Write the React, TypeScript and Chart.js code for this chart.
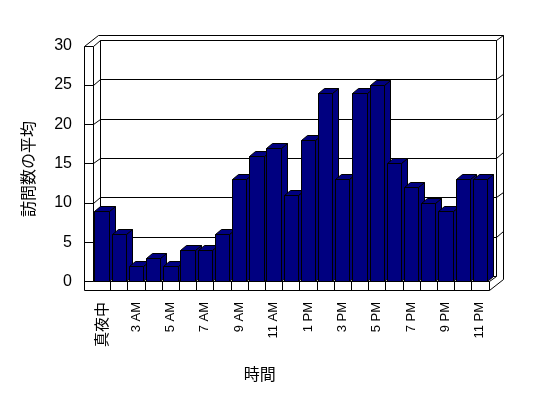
import React, { useEffect, useRef } from 'react';
import { Chart, registerables } from 'chart.js';

Chart.register(...registerables);

// ---- data ----
const categories = [
  '真夜中', '1 AM', '3 AM', '4 AM', '5 AM', '6 AM', '7 AM', '8 AM', '9 AM', '10 AM', '11 AM', '正午',
  '1 PM', '2 PM', '3 PM', '4 PM', '5 PM', '6 PM', '7 PM', '8 PM', '9 PM', '10 PM', '11 PM',
];
const avgVisits = [9, 6, 2, 3, 2, 4, 4, 6, 13, 16, 17, 11, 18, 24, 13, 24, 25, 15, 12, 10, 9, 13, 13];
const yTickValues = [0, 5, 10, 15, 20, 25, 30];
const xAxisTitle = '時間';
const yAxisTitle = '訪問数の平均';

// ---- style ----
const LATIN = "'Liberation Sans', 'Noto Sans CJK JP', sans-serif";
const CJK = "'Noto Sans CJK JP', 'Liberation Sans', sans-serif";
const BAR_FILL = '#000080';
const LINE = '#000000';
const WALL_DX = 7;
const WALL_DY = -5.5;
const BAR_DX = 6;
const BAR_DY = -5;
const LEFT_WALL_W = 9;
const FLOOR_H = 8.5;

const p = (v: number) => Math.round(v) + 0.5;

function line(ctx: CanvasRenderingContext2D, x1: number, y1: number, x2: number, y2: number) {
  ctx.beginPath();
  ctx.moveTo(p(x1), p(y1));
  ctx.lineTo(p(x2), p(y2));
  ctx.stroke();
}

const threeDPlugin = {
  id: 'threeD',
  beforeDatasetsDraw(chart: any) {
    const { ctx, chartArea, scales } = chart;
    const ys = scales.y;
    const xs = scales.x;
    const L = chartArea.left;
    const R = chartArea.right;
    const y0 = ys.getPixelForValue(0);
    const yTop = ys.getPixelForValue(yTickValues[yTickValues.length - 1]);
    const fb = y0 + FLOOR_H;
    const dx = WALL_DX;
    const dy = WALL_DY;
    ctx.save();
    ctx.strokeStyle = LINE;
    ctx.lineWidth = 1;
    // back wall inner face outline
    line(ctx, L + dx, yTop + dy, R + dx, yTop + dy);
    line(ctx, L + dx, yTop + dy, L + dx, y0 + dy);
    line(ctx, R + dx, yTop + dy, R + dx, y0 + dy);
    line(ctx, L + dx, y0 + dy, R + dx, y0 + dy);
    // gridlines + ticks on walls
    yTickValues.forEach((v) => {
      const yv = ys.getPixelForValue(v);
      line(ctx, L - LEFT_WALL_W, yv, L, yv);
      line(ctx, L, yv, L + dx, yv + dy);
      if (v !== 0) {
        line(ctx, L + dx, yv + dy, R + dx, yv + dy);
        line(ctx, R + dx, yv + dy, R + 2 * dx, yv + 2 * dy);
      }
    });
    // floor top right edge
    line(ctx, R, y0, R + dx, y0 + dy);
    // outer outline
    line(ctx, L - LEFT_WALL_W, yTop, L - LEFT_WALL_W + 2 * dx, yTop + 2 * dy);
    line(ctx, L - LEFT_WALL_W + 2 * dx, yTop + 2 * dy, R + 2 * dx, yTop + 2 * dy);
    line(ctx, R + 2 * dx, yTop + 2 * dy, R + 2 * dx, fb + 2 * dy);
    line(ctx, R + 2 * dx, fb + 2 * dy, R, fb);
    // left wall front face
    line(ctx, L - LEFT_WALL_W, yTop, L - LEFT_WALL_W, fb);
    line(ctx, L, yTop, L, y0);
    // floor front face
    line(ctx, L - LEFT_WALL_W, fb, R, fb);
    line(ctx, L, y0, R, y0);
    line(ctx, R, y0, R, fb);
    for (let i = 1; i < categories.length; i++) {
      const xb = (xs.getPixelForValue(i - 1) + xs.getPixelForValue(i)) / 2;
      line(ctx, xb, y0, xb, fb);
    }
    ctx.restore();
  },
  afterDatasetsDraw(chart: any) {
    const { ctx } = chart;
    const meta = chart.getDatasetMeta(0);
    ctx.save();
    ctx.strokeStyle = LINE;
    ctx.fillStyle = BAR_FILL;
    ctx.lineWidth = 1;
    meta.data.forEach((bar: any) => {
      const { x, y, base, width } = bar.getProps(['x', 'y', 'base', 'width'], true);
      const l = p(x - width / 2);
      const r = p(x + width / 2);
      const t = p(y);
      const b = p(base);
      // side face
      ctx.beginPath();
      ctx.moveTo(r, t);
      ctx.lineTo(r + BAR_DX, t + BAR_DY);
      ctx.lineTo(r + BAR_DX, b + BAR_DY);
      ctx.lineTo(r, b);
      ctx.closePath();
      ctx.fill();
      ctx.stroke();
      // top face
      ctx.beginPath();
      ctx.moveTo(l, t);
      ctx.lineTo(l + BAR_DX, t + BAR_DY);
      ctx.lineTo(r + BAR_DX, t + BAR_DY);
      ctx.lineTo(r, t);
      ctx.closePath();
      ctx.fill();
      ctx.stroke();
      // front face
      ctx.beginPath();
      ctx.rect(l, t, r - l, b - t);
      ctx.fill();
      ctx.stroke();
    });
    ctx.restore();
  },
};

export default function App() {
  const ref = useRef<HTMLCanvasElement>(null);
  useEffect(() => {
    document.body.style.margin = '0';
    const chart = new Chart(ref.current as HTMLCanvasElement, {
      type: 'bar',
      data: {
        labels: categories,
        datasets: [
          {
            label: yAxisTitle,
            data: avgVisits,
            backgroundColor: 'rgba(0,0,0,0)',
            borderWidth: 0,
            barPercentage: 0.833,
            categoryPercentage: 1,
          },
        ],
      },
      options: {
        responsive: false,
        animation: false,
        devicePixelRatio: 1,
        events: [],
        layout: { padding: { left: 31, right: 59.5, top: 45.5, bottom: 0 } },
        plugins: {
          legend: { display: false },
          tooltip: { enabled: false },
          title: {
            display: true,
            position: 'bottom',
            text: xAxisTitle,
            color: '#000',
            font: { family: CJK, size: 16, weight: 'normal' },
            padding: { top: 0, bottom: 14.4 },
          },
        },
        scales: {
          x: {
            grid: { display: false, drawTicks: false },
            border: { display: false },
            ticks: {
              autoSkip: false,
              minRotation: 90,
              maxRotation: 90,
              padding: 9.5,
              color: '#000',
              font: (c: any) =>
                c.index === 0 ? { family: CJK, size: 15 } : { family: LATIN, size: 13 },
              callback: (_v: any, i: number) => (i % 2 === 0 ? categories[i] : ''),
            },
            afterFit: (s: any) => {
              s.height = 71.9;
            },
          },
          y: {
            min: -1.4,
            max: 30,
            grid: { display: false, drawTicks: false },
            border: { display: false },
            afterBuildTicks: (s: any) => {
              s.ticks = yTickValues.map((v) => ({ value: v }));
            },
            ticks: {
              padding: 21,
              color: '#000',
              font: { family: LATIN, size: 16 },
            },
            title: {
              display: true,
              text: yAxisTitle,
              color: '#000',
              font: { family: CJK, size: 16 },
              padding: { top: -12.6, bottom: 0 },
            },
            afterFit: (s: any) => {
              s.width = 62;
            },
          },
        },
      },
      plugins: [threeDPlugin],
    } as any);
    return () => chart.destroy();
  }, []);
  return (
    <div style={{ width: 548, height: 398, background: '#fff' }}>
      <canvas ref={ref} width={548} height={398} style={{ display: 'block' }} />
    </div>
  );
}
